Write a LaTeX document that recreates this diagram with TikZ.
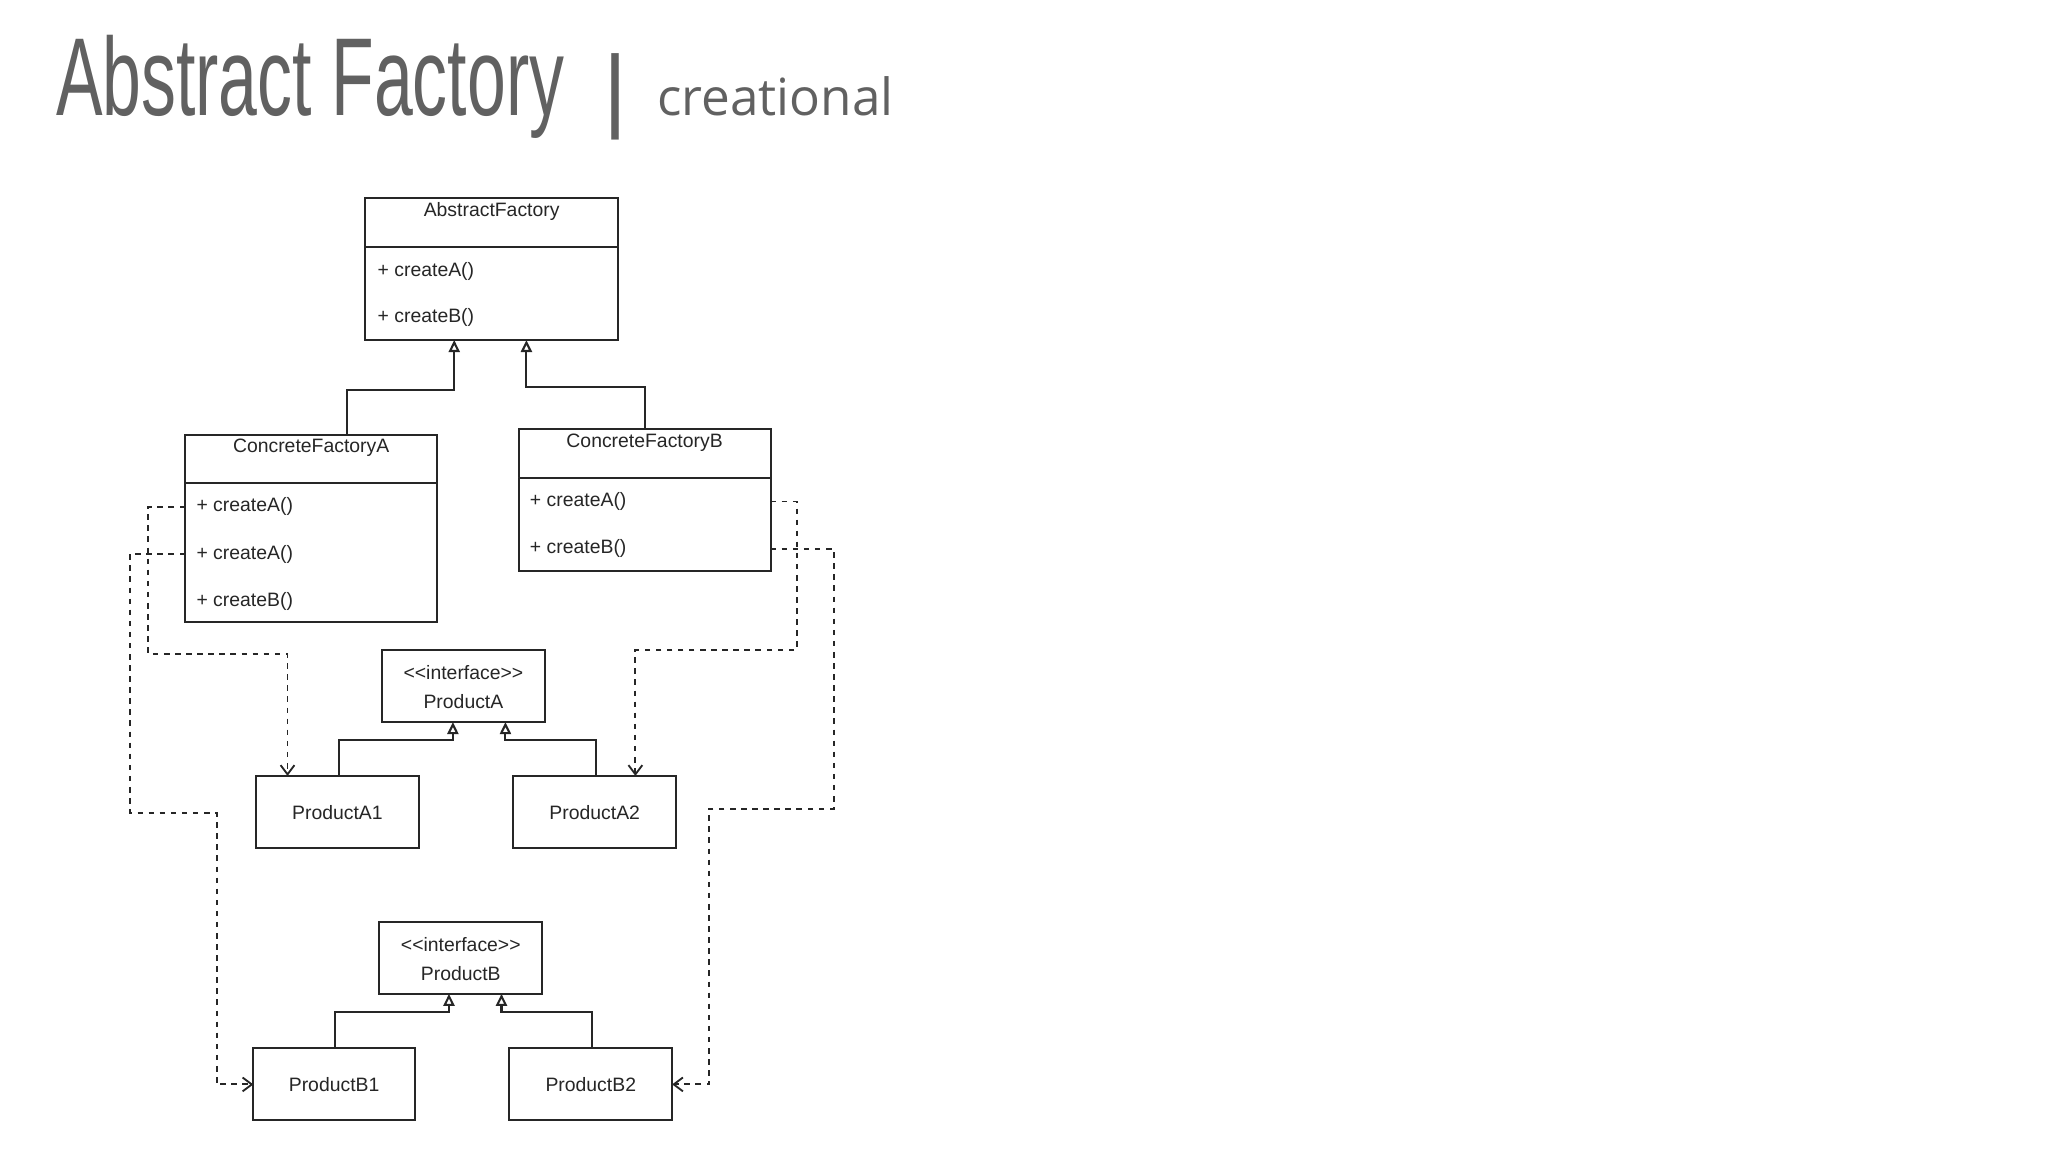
\documentclass[tikz,border=0pt]{standalone}
\usepackage{fontspec}
\setmainfont{Liberation Sans}
\newfontfamily\opensans{Open Sans}
\usetikzlibrary{arrows.meta}
\tikzset{
  x=0.01cm, y=-0.01cm,
  box/.style={draw=black!85, line width=0.45pt, fill=white},
  lbl/.style={font=\fontsize{4.2}{5}\selectfont, text=black!85, inner sep=0pt},
  inh/.style={draw=black!85, line width=0.45pt, -{Triangle[open, length=2.6pt, width=2.4pt]}},
  dep/.style={draw=black!85, line width=0.4pt, dash pattern=on 1.2pt off 1.2pt, -{Straight Barb[length=2pt, width=3pt]}},
}
\newcommand{\stereo}{{<}{<}interface{>}{>}}
\begin{document}
\begin{tikzpicture}
\useasboundingbox (0,0) rectangle (1560,877.5);
% title
\node[anchor=base west, inner sep=0pt, text=black!62] (title) at (42,88)
  {\scalebox{0.63}[1]{\fontsize{24}{28}\selectfont Abstract Factory}};
\node[anchor=base west, inner sep=0pt, text=black!62] (bar) at (459,92) {\fontsize{20}{24}\selectfont |};
\node[anchor=base west, inner sep=0pt, text=black!62] (sub) at (500,88) {\opensans\fontsize{11.1}{14}\selectfont creational};

% AbstractFactory
\draw[box] (278,151) rectangle (471,259);
\draw[box] (278,188) -- (471,188);
\node[lbl] (af) at (374.5,161) {AbstractFactory};
\node[lbl, anchor=west] (afa) at (287,207) {+ createA()};
\node[lbl, anchor=west] (afb) at (287,242) {+ createB()};
\coordinate (afL) at (346,259); \coordinate (afR) at (401,259);

% ConcreteFactoryA
\draw[box] (141,331) rectangle (333,474);
\draw[box] (141,368) -- (333,368);
\node[lbl] (cfa) at (237,341) {ConcreteFactoryA};
\node[lbl, anchor=west] (cfa1) at (149,386) {+ createA()};
\node[lbl, anchor=west] (cfa2) at (149,422) {+ createA()};
\node[lbl, anchor=west] (cfa3) at (149,458) {+ createB()};

% ConcreteFactoryB
\draw[box] (395,327) rectangle (587,435);
\draw[box] (395,364) -- (587,364);
\node[lbl] (cfb) at (491,337) {ConcreteFactoryB};
\node[lbl, anchor=west] (cfb1) at (403,382) {+ createA()};
\node[lbl, anchor=west] (cfb2) at (403,418) {+ createB()};

\draw[inh] (264,331) |- (346,297) -- (afL);
\draw[inh] (491,327) |- (401,295) -- (afR);

% Products A
\draw[box] (291,495) rectangle (415,550);
\node[lbl, align=center] (pat) at (353,523.5) {\stereo\\[1.3pt]ProductA};
\draw[box] (195,591) rectangle (319,646);
\node[lbl] (pa1) at (257,619) {ProductA1};
\draw[box] (391,591) rectangle (515,646);
\node[lbl] (pa2) at (453,619) {ProductA2};
\draw[inh] (258,591) |- (345,564) -- (345,550);
\draw[inh] (454,591) |- (385,564) -- (385,550);

% Products B
\draw[box] (289,702) rectangle (413,757);
\node[lbl, align=center] (pbt) at (351,730.5) {\stereo\\[1.3pt]ProductB};
\draw[box] (193,798) rectangle (316,853);
\node[lbl] (pb1) at (254.5,826) {ProductB1};
\draw[box] (388,798) rectangle (512,853);
\node[lbl] (pb2) at (450,826) {ProductB2};
\draw[inh] (255,798) |- (342,771) -- (342,757);
\draw[inh] (451,798) |- (382,771) -- (382,757);

% dependencies
\draw[dep] (141,386) -| (113,498) -| (219,591);
\draw[dep] (141,422) -| (99,619) -| (165,826) -- (193,826);
\draw[dep] (587,382) -| (607,495) -| (484,591);
\draw[dep] (587,418) -| (635,616) -| (540,826) -- (512,826);
\end{tikzpicture}
\end{document}
